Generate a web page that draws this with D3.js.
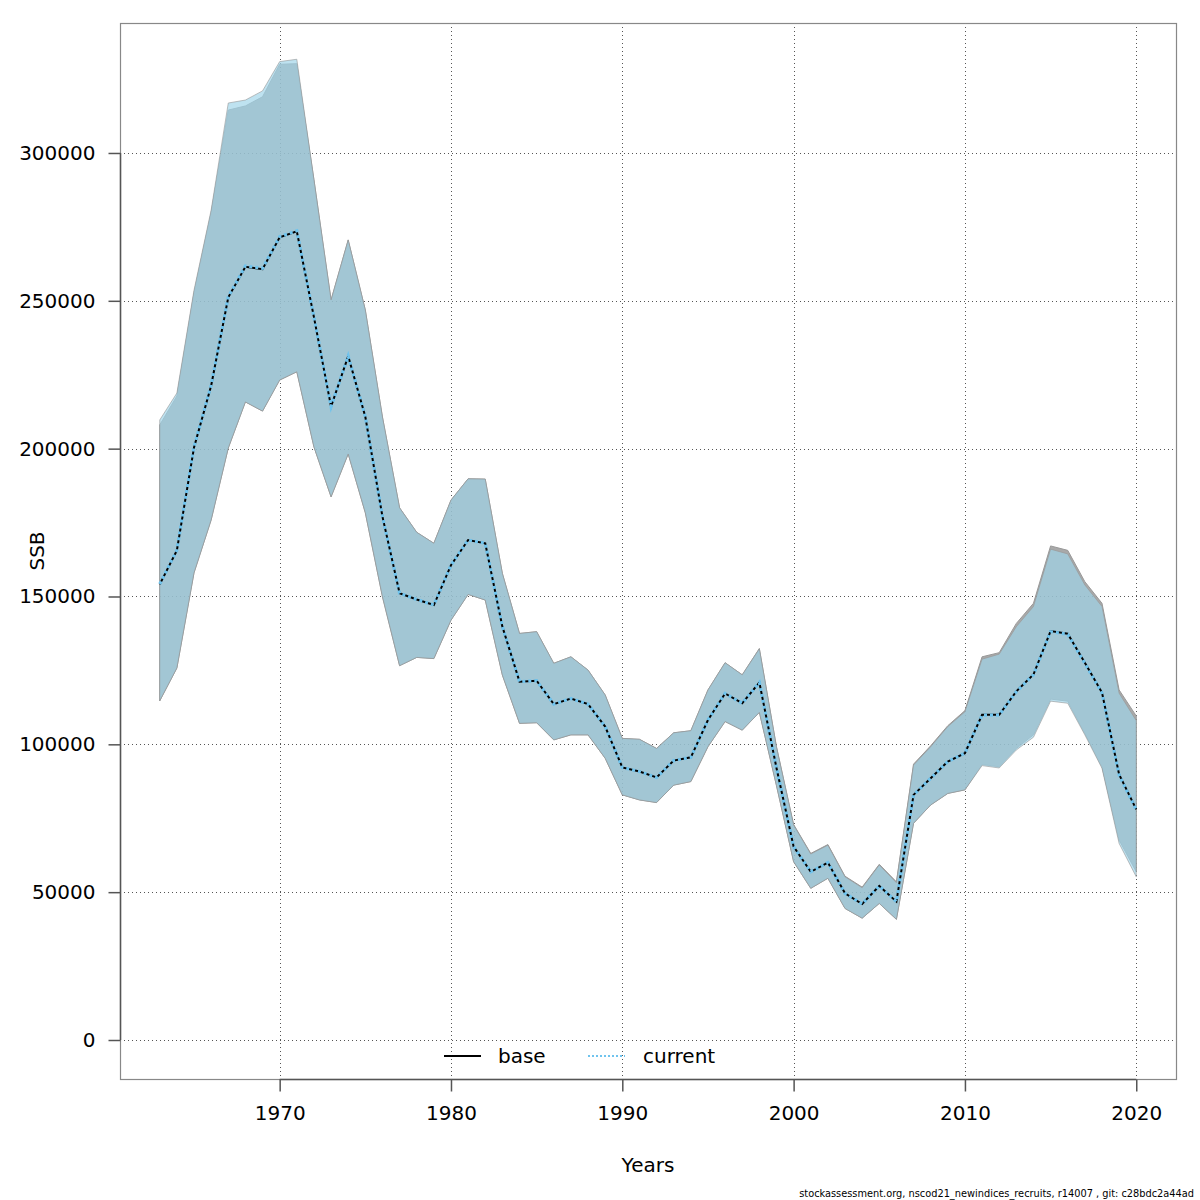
<!DOCTYPE html>
<html>
<head>
<meta charset="utf-8">
<script src="https://cdn.jsdelivr.net/npm/d3@7"></script>
<style>
  body { margin: 0; background: #fff; }
  text { font-family: "DejaVu Sans", sans-serif; }
</style>
</head>
<body>
<div id="chart"></div>
<script>
const years = d3.range(1963, 2021);

// current run: estimate and confidence bounds
const curSSB = [154200, 165700, 200600, 221500, 251400, 261800, 261000, 271700, 273700, 244600,
  214200, 231300, 210800, 177000, 151100, 149000, 147100, 160600, 169100, 168000,
  139800, 121200, 121500, 113600, 115500, 113600, 106000, 92200, 90800, 88800,
  94500, 95600, 108200, 117200, 113900, 120900, 92000, 65400, 56900, 60000,
  49600, 46000, 52100, 46800, 82900, 88500, 94200, 97000, 109900, 109900,
  117800, 123500, 138100, 137200, 127400, 117300, 89600, 77800];
const curLow = [114700, 125800, 158000, 175900, 200200, 215800, 212700, 223200, 226000, 200600,
  183700, 198200, 178300, 149900, 126600, 129400, 129000, 142000, 150700, 148800,
  123400, 107100, 107300, 101500, 103200, 103200, 95300, 82900, 81200, 80300,
  86200, 87400, 99200, 107700, 104800, 110800, 86000, 60300, 51300, 54700,
  44500, 41200, 46200, 40800, 73300, 79500, 83400, 84600, 92800, 92000,
  98100, 102400, 114600, 113900, 103200, 91900, 66500, 55200];
const curHigh = [209700, 218800, 253600, 280700, 316900, 317900, 321000, 330900, 331700, 291000,
  250300, 270600, 246900, 210700, 180000, 171700, 168000, 182600, 189800, 189700,
  157800, 137500, 138100, 127400, 129600, 125100, 116700, 102000, 101700, 98600,
  103900, 104600, 118400, 127600, 123500, 132300, 99000, 72700, 62900, 65900,
  55200, 51500, 59200, 53200, 93000, 99200, 106000, 111000, 128800, 130500,
  139800, 146600, 166000, 164400, 153900, 146600, 117300, 108000];

// base run
const baseSSB = [154100, 165600, 200400, 221300, 251200, 261500, 260700, 271500, 273500, 244500,
  214200, 231300, 210800, 177000, 151100, 149000, 147100, 160600, 169100, 168000,
  139800, 121200, 121500, 113600, 115500, 113600, 106000, 92200, 90800, 88800,
  94500, 95600, 108200, 117200, 113900, 120900, 92000, 65400, 56900, 60000,
  49600, 46000, 52100, 46800, 82900, 88500, 94200, 97000, 110000, 110000,
  117900, 123600, 138300, 137400, 127600, 117500, 89800, 78000];
const baseLow = [114700, 125800, 158000, 175900, 200200, 215800, 212700, 223200, 226000, 200600,
  183700, 198200, 178300, 149900, 126600, 129400, 129000, 142000, 150700, 148800,
  123400, 107100, 107300, 101500, 103200, 103200, 95300, 82900, 81200, 80300,
  86200, 87400, 99200, 107700, 104800, 110800, 86000, 60300, 51300, 54700,
  44500, 41200, 46200, 40800, 73300, 79500, 83400, 84600, 93200, 92400,
  98600, 103200, 115300, 114600, 103700, 92400, 67600, 56900];
const baseHigh = [208000, 217800, 252800, 279900, 314500, 315900, 319000, 330000, 330200, 291000,
  250300, 270600, 246900, 210700, 180000, 171700, 168000, 182600, 189800, 189700,
  157800, 137500, 138100, 127400, 129600, 125100, 116700, 102000, 101700, 98600,
  103900, 104600, 118400, 127600, 123500, 132400, 99200, 72900, 63100, 66100,
  55400, 51700, 59400, 53500, 93300, 99500, 106300, 111400, 129600, 131000,
  140900, 147700, 167100, 165600, 155000, 147700, 118400, 109600];

const yTicks = [0, 50000, 100000, 150000, 200000, 250000, 300000];
const xTicks = [1970, 1980, 1990, 2000, 2010, 2020];
const legendNames = ["base", "current"];
const footer = "stockassessment.org, nscod21_newindices_recruits, r14007 , git: c28bdc2a44ad";

const W = 1200, H = 1200;
const pLeft = 120, pRight = 1176, pTop = 23, pBottom = 1079;

const x = d3.scaleLinear().domain([1960.68, 2022.32]).range([pLeft, pRight]);
const y = d3.scaleLinear().domain([-13190, 343960]).range([pBottom, pTop]);

const svg = d3.select("#chart").append("svg")
  .attr("width", W).attr("height", H);

// grid
const grid = svg.append("g")
  .attr("stroke", "#555").attr("stroke-width", 1).attr("stroke-dasharray", "1,3");
grid.selectAll(".gy").data(yTicks).enter().append("line")
  .attr("x1", pLeft).attr("x2", pRight)
  .attr("y1", d => Math.round(y(d)) + 0.5).attr("y2", d => Math.round(y(d)) + 0.5);
grid.selectAll(".gx").data(xTicks).enter().append("line")
  .attr("y1", pTop).attr("y2", pBottom)
  .attr("x1", d => Math.round(x(d)) + 0.5).attr("x2", d => Math.round(x(d)) + 0.5);

// confidence bands
const band = (lo, hi) => d3.area()
  .x((d, i) => x(years[i]))
  .y0((d, i) => y(lo[i]))
  .y1((d, i) => y(hi[i]));

svg.append("path")
  .attr("d", band(baseLow, baseHigh)(years))
  .attr("fill", "rgba(128,128,128,0.68)")
  .attr("stroke", "#999").attr("stroke-width", 1);
svg.append("path")
  .attr("d", band(curLow, curHigh)(years))
  .attr("fill", "rgba(159,212,233,0.68)")
  .attr("stroke", "rgba(150,150,150,0.6)").attr("stroke-width", 1);

// lines
const line = vals => d3.line().x((d, i) => x(years[i])).y((d, i) => y(vals[i]))(years);
svg.append("path").attr("d", line(baseSSB))
  .attr("fill", "none").attr("stroke", "#000").attr("stroke-width", 2);
svg.append("path").attr("d", line(curSSB))
  .attr("fill", "none").attr("stroke", "#70c4ee").attr("stroke-width", 3.2)
  .attr("stroke-dasharray", "3,3");

// box
svg.append("rect")
  .attr("x", pLeft + 0.5).attr("y", pTop + 0.5)
  .attr("width", pRight - pLeft).attr("height", pBottom - pTop)
  .attr("fill", "none").attr("stroke", "#888").attr("stroke-width", 1.2);

// y axis
const yAxis = svg.append("g").attr("transform", `translate(${pLeft + 0.5},0)`)
  .call(d3.axisLeft(y).tickValues(yTicks).tickSize(12).tickPadding(13).tickFormat(d3.format("d")));
yAxis.select(".domain").attr("d", `M0,${y(0)}V${y(300000)}`).attr("stroke", "#555").attr("stroke-width", 1.5);
yAxis.selectAll(".tick line").attr("stroke", "#555").attr("stroke-width", 1.5);
yAxis.selectAll("text").attr("font-size", 20).attr("fill", "#000")
  .attr("font-family", "DejaVu Sans, sans-serif");

// x axis
const xAxis = svg.append("g").attr("transform", `translate(0,${pBottom + 0.5})`)
  .call(d3.axisBottom(x).tickValues(xTicks).tickSize(12).tickPadding(14).tickFormat(d3.format("d")));
xAxis.select(".domain").attr("d", `M${x(1970)},0H${x(2020)}`).attr("stroke", "#555").attr("stroke-width", 1.5);
xAxis.selectAll(".tick line").attr("stroke", "#555").attr("stroke-width", 1.5);
xAxis.selectAll("text").attr("font-size", 20).attr("fill", "#000")
  .attr("font-family", "DejaVu Sans, sans-serif");

// axis titles
svg.append("text").attr("x", (pLeft + pRight) / 2).attr("y", 1172)
  .attr("text-anchor", "middle").attr("font-size", 20).text("Years");
svg.append("text").attr("transform", `translate(44,${(pTop + pBottom) / 2}) rotate(-90)`)
  .attr("text-anchor", "middle").attr("font-size", 20).text("SSB");

// legend
const lg = svg.append("g").attr("transform", "translate(444,1056)");
lg.append("line").attr("x1", 0).attr("x2", 37).attr("stroke", "#000").attr("stroke-width", 2);
lg.append("text").attr("x", 54).attr("y", 7).attr("font-size", 20).text(legendNames[0]);
lg.append("line").attr("x1", 144).attr("x2", 181).attr("stroke", "#70c4ee")
  .attr("stroke-width", 2).attr("stroke-dasharray", "2,2");
lg.append("text").attr("x", 199).attr("y", 7).attr("font-size", 20).text(legendNames[1]);

// footer
svg.append("text").attr("x", 1194).attr("y", 1197).attr("text-anchor", "end")
  .attr("font-size", 9.8).attr("font-family", "Liberation Sans, Arial, sans-serif").text(footer);
</script>
</body>
</html>
